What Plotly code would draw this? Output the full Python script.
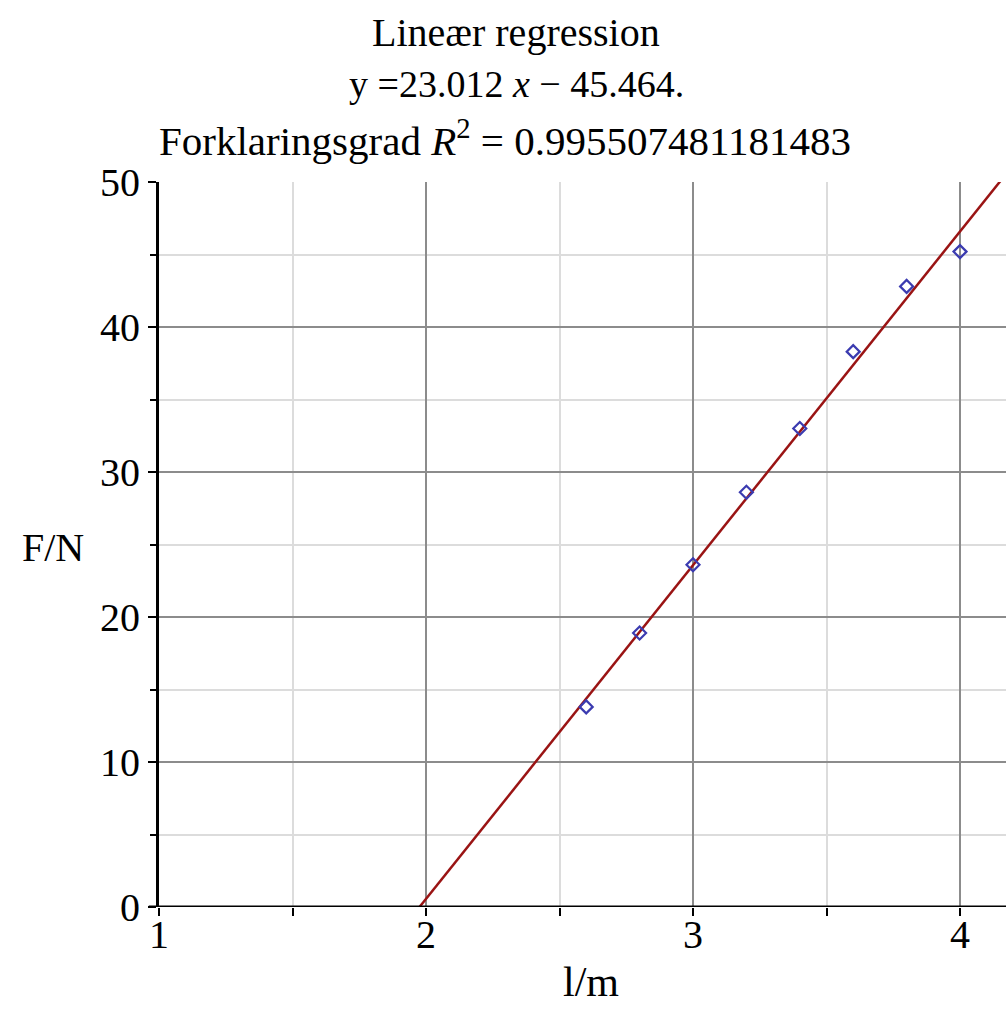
import plotly.graph_objects as go

# Data
length_m = [2.6, 2.8, 3.0, 3.2, 3.4, 3.6, 3.8, 4.0]
force_N = [13.8, 18.9, 23.6, 28.6, 33.0, 38.3, 42.8, 45.2]
slope = 23.012
intercept = -45.464
r_squared = "0.995507481181483"

x_tick_vals = [1, 2, 3, 4]
y_tick_vals = [0, 10, 20, 30, 40, 50]

W, H = 1006, 1013
L, R, T, B = 159, 0, 182, 106
pw, ph = W - L - R, H - T - B

def px_to_paper_x(px):
    return (px - L) / pw

def px_to_paper_y(py):
    return (H - B - py) / ph

x_start = -intercept / slope
x_end = 4.25
line_x = [x_start, x_end]
line_y = [slope * v + intercept for v in line_x]

FONT = "Liberation Serif"

fig = go.Figure()
fig.add_trace(go.Scatter(
    x=line_x, y=line_y, mode="lines",
    line=dict(color="#9a1414", width=2.5), showlegend=False,
))
fig.add_trace(go.Scatter(
    x=length_m, y=force_N, mode="markers",
    marker=dict(symbol="diamond-open", size=10, color="#3b3bb0", line=dict(width=2.2, color="#3b3bb0")),
    showlegend=False,
))

fig.update_layout(
    width=W, height=H,
    margin=dict(l=L, r=R, t=T, b=B),
    paper_bgcolor="white", plot_bgcolor="white",
    font=dict(family=FONT, size=38, color="black"),
    xaxis=dict(
        range=[1, 1 + pw / 267.0], tickvals=x_tick_vals, ticktext=[str(v) for v in x_tick_vals],
        showgrid=True, gridcolor="#8c8c8c", gridwidth=1.5,
        ticks="outside", ticklen=8, tickwidth=2, tickcolor="black",
        ticklabelstandoff=-16,
        showline=False, zeroline=False,
        minor=dict(dtick=0.5, showgrid=True, gridcolor="#dcdcdc", gridwidth=1.5,
                   ticks="outside", ticklen=8, tickwidth=2, tickcolor="black"),
        tickfont=dict(family=FONT, size=40),
    ),
    yaxis=dict(
        range=[0, 50], tickvals=y_tick_vals, ticktext=[str(v) for v in y_tick_vals],
        showgrid=True, gridcolor="#8c8c8c", gridwidth=1.5,
        ticks="outside", ticklen=8, tickwidth=2, tickcolor="black",
        showline=True, linecolor="black", linewidth=3, mirror=False,
        zeroline=False,
        minor=dict(dtick=5, showgrid=True, gridcolor="#dcdcdc", gridwidth=1.5,
                   ticks="outside", ticklen=6, tickwidth=2, tickcolor="black"),
        tickfont=dict(family=FONT, size=40),
    ),
    shapes=[dict(type="line", xref="paper", yref="y", x0=-0.012, x1=1, y0=0, y1=0,
                 line=dict(color="black", width=3), layer="above")],
    annotations=[
        dict(text="Lineær regression", xref="paper", yref="paper",
             x=px_to_paper_x(516), y=px_to_paper_y(32), showarrow=False,
             xanchor="center", yanchor="middle", font=dict(family=FONT, size=40)),
        dict(text="y =23.012 <i>x</i> − 45.464.", xref="paper", yref="paper",
             x=px_to_paper_x(516), y=px_to_paper_y(84), showarrow=False,
             xanchor="center", yanchor="middle", font=dict(family=FONT, size=38)),
        dict(text="Forklaringsgrad <i>R</i><sup>2</sup> = " + r_squared, xref="paper", yref="paper",
             x=px_to_paper_x(505), y=px_to_paper_y(138), showarrow=False,
             xanchor="center", yanchor="middle", font=dict(family=FONT, size=41)),
        dict(text="F/N", xref="paper", yref="paper",
             x=px_to_paper_x(53), y=px_to_paper_y(547), showarrow=False,
             xanchor="center", yanchor="middle", font=dict(family=FONT, size=40)),
        dict(text="l/m", xref="paper", yref="paper",
             x=px_to_paper_x(591), y=px_to_paper_y(982), showarrow=False,
             xanchor="center", yanchor="middle", font=dict(family=FONT, size=42)),
    ],
)

fig.write_html("out.html")
